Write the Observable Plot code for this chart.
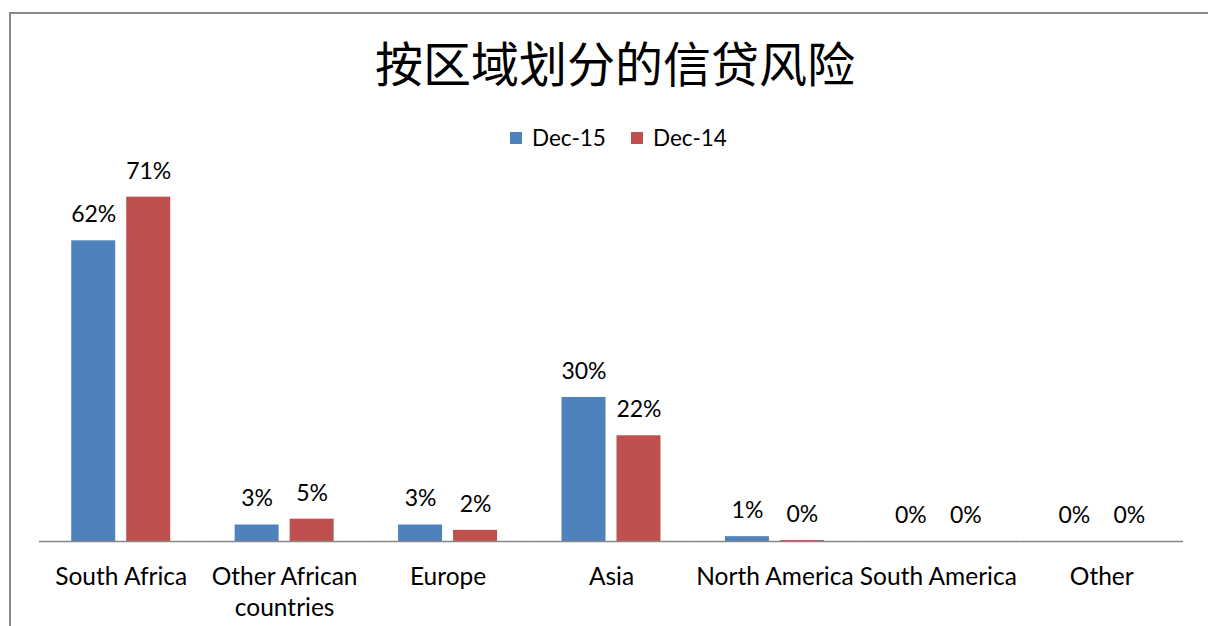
<!DOCTYPE html>
<html>
<head>
<meta charset="utf-8">
<script src="https://cdn.jsdelivr.net/npm/d3@7"></script>
<script src="https://cdn.jsdelivr.net/npm/@observablehq/plot@0.6"></script>
<style>
  html, body { margin: 0; padding: 0; background: #fff; overflow: hidden; width: 1208px; height: 626px; }
  #frame { position: absolute; left: 9px; top: 12px; width: 1300px; height: 700px; border-left: 2px solid #888; border-top: 2px solid #888; box-sizing: border-box; }
  #title { position: absolute; left: 11px; top: 31px; width: 1208px; height: 60px; line-height: 60px; text-align: center; font-family: "Noto Sans CJK SC", sans-serif; font-size: 48px; color: #000; }
  #legend { position: absolute; left: 0; top: 124px; height: 28px; font-family: Lato, sans-serif; font-size: 22.5px; color: #000; }
  .item { position: absolute; top: 0; white-space: nowrap; line-height: 28px; }
  .sw { position: absolute; top: 8px; width: 12px; height: 12px; }
  .lab { position: absolute; left: 22px; top: 0; }
  #chart { position: absolute; left: 0; top: 0; }
</style>
</head>
<body>
<div id="frame"></div>
<div id="title"></div>
<div id="legend"></div>
<div id="chart"></div>
<script>
const titleText = "按区域划分的信贷风险";
const categories = ["South Africa", "Other African countries", "Europe", "Asia", "North America", "South America", "Other"];
const categoryLabels = ["South Africa", "Other African\ncountries", "Europe", "Asia", "North America", "South America", "Other"];
const series = ["Dec-15", "Dec-14"];
const dec15 = [0.62, 0.034, 0.034, 0.297, 0.010, 0.0, 0.0];
const dec14 = [0.71, 0.046, 0.023, 0.218, 0.002, 0.0, 0.0];
const colors = ["#4F81BD", "#C0504D"];

const data = categories.flatMap((c, i) => [
  {category: c, series: series[0], value: dec15[i]},
  {category: c, series: series[1], value: dec14[i]}
]);

document.getElementById("title").textContent = titleText;

const legend = document.getElementById("legend");
const legendX = [510, 631];
series.forEach((s, i) => {
  const item = document.createElement("div");
  item.className = "item";
  item.style.left = legendX[i] + "px";
  const sw = document.createElement("div");
  sw.className = "sw";
  sw.style.background = colors[i];
  const lab = document.createElement("div");
  lab.className = "lab";
  lab.textContent = s;
  item.appendChild(sw);
  item.appendChild(lab);
  legend.appendChild(item);
});

const chart = Plot.plot({
  width: 1208,
  height: 626,
  marginLeft: 39,
  marginRight: 25,
  marginTop: 153,
  marginBottom: 85,
  fx: {domain: categories, padding: 0, axis: null, round: false},
  x: {domain: series, paddingInner: 0.2, paddingOuter: 0.586, axis: null, round: false},
  y: {domain: [0, 0.8], axis: null},
  color: {domain: series, range: colors},
  style: {fontFamily: "Lato, sans-serif", fontSize: "22px", background: "transparent", overflow: "visible"},
  marks: [
    Plot.barY(data, {fx: "category", x: "series", y: "value", fill: "series"}),
    Plot.ruleY([0], {stroke: "#868686", strokeWidth: 1.5}),
    Plot.text(data, {fx: "category", x: "series", y: "value", text: d => Math.round(d.value * 100) + "%", dy: -26, fill: "#000", fontSize: 23}),
    Plot.text(categories, {fx: d => d, text: (d, i) => categoryLabels[i], frameAnchor: "bottom", dy: 21, lineAnchor: "top", lineHeight: 1.27, fill: "#000", fontSize: 24.5})
  ]
});
document.getElementById("chart").appendChild(chart);
</script>
</body>
</html>
